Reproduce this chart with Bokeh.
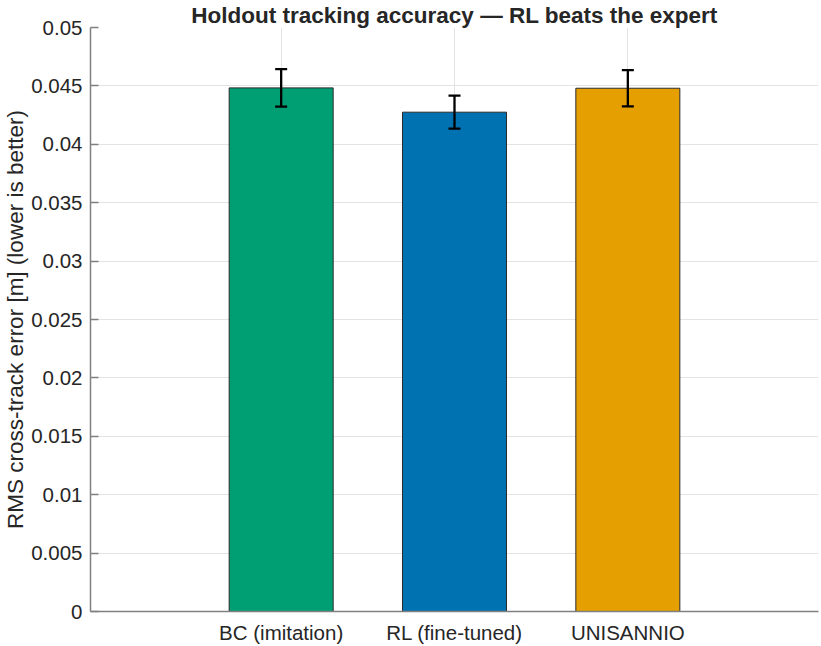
from bokeh.plotting import figure
from bokeh.models import ColumnDataSource, Whisker, TeeHead, FixedTicker, Range1d
from bokeh.embed import file_html
from bokeh.resources import INLINE

# Data
methods = ["BC (imitation)", "RL (fine-tuned)", "UNISANNIO"]
positions = [1, 2, 3]
rms_error = [0.04483, 0.04275, 0.04480]
err_half = [0.00160, 0.00141, 0.00155]
colors = ["#009E73", "#0072B2", "#E69F00"]

y_ticks = [0, 0.005, 0.01, 0.015, 0.02, 0.025, 0.03, 0.035, 0.04, 0.045, 0.05]
y_tick_labels = ["0", "0.005", "0.01", "0.015", "0.02", "0.025", "0.03",
                 "0.035", "0.04", "0.045", "0.05"]

title = "Holdout tracking accuracy \u2014 RL beats the expert"
y_label = "RMS cross-track error [m] (lower is better)"

src = ColumnDataSource(data=dict(
    x=positions,
    top=rms_error,
    upper=[v + e for v, e in zip(rms_error, err_half)],
    lower=[v - e for v, e in zip(rms_error, err_half)],
    color=colors,
))

FONT = "Liberation Sans"
TXT = "#262626"

p = figure(width=821, height=646, title=title,
           x_range=Range1d(-0.1, 4.1), y_range=Range1d(0, 0.05),
           output_backend="svg", toolbar_location=None, tools="",
           min_border_left=88, min_border_right=3,
           min_border_top=0, min_border_bottom=34)

p.vbar(x="x", top="top", width=0.6, source=src,
       fill_color="color", line_color="#2a2a2a", line_width=1)

p.add_layout(Whisker(base="x", upper="upper", lower="lower", source=src,
                     dimension="height", level="overlay",
                     line_color="black", line_width=2.3,
                     upper_head=TeeHead(size=12, line_width=2.3, line_color="black"),
                     lower_head=TeeHead(size=12, line_width=2.3, line_color="black")))

# title
p.title.text_font = FONT
p.title.text_font_size = "22.5px"
p.title.text_font_style = "bold"
p.title.text_color = TXT
p.title.align = "center"
p.title.standoff = 0
p.title.offset = 0

# axes
p.xaxis.ticker = FixedTicker(ticks=positions)
p.xaxis.major_label_overrides = {x: m for x, m in zip(positions, methods)}
p.yaxis.ticker = FixedTicker(ticks=y_ticks)
p.yaxis.major_label_overrides = {t: l for t, l in zip(y_ticks, y_tick_labels)}
p.yaxis.axis_label = y_label

for ax in (p.xaxis[0], p.yaxis[0]):
    ax.axis_line_color = "#808080"
    ax.axis_line_width = 1.5
    ax.major_label_text_font = FONT
    ax.major_label_text_font_size = "20.5px"
    ax.major_label_text_color = TXT
    ax.minor_tick_line_color = None
    ax.axis_label_text_font = FONT
    ax.axis_label_text_font_size = "22.5px"
    ax.axis_label_text_font_style = "normal"
    ax.axis_label_text_color = TXT

p.xaxis.major_tick_line_color = None
p.xaxis.major_tick_in = 0
p.xaxis.major_tick_out = 0
p.xaxis.major_label_standoff = 9
p.yaxis.major_tick_in = 8
p.yaxis.major_tick_out = 0
p.yaxis.major_tick_line_color = "#808080"
p.yaxis.major_tick_line_width = 1.5
p.yaxis.major_label_standoff = 8
p.yaxis.axis_label_standoff = 0

p.grid.grid_line_color = "#e3e3e3"
p.grid.grid_line_width = 1
p.outline_line_color = None
p.background_fill_color = "white"
p.border_fill_color = "white"

open("out.html", "w").write(file_html(p, INLINE))
